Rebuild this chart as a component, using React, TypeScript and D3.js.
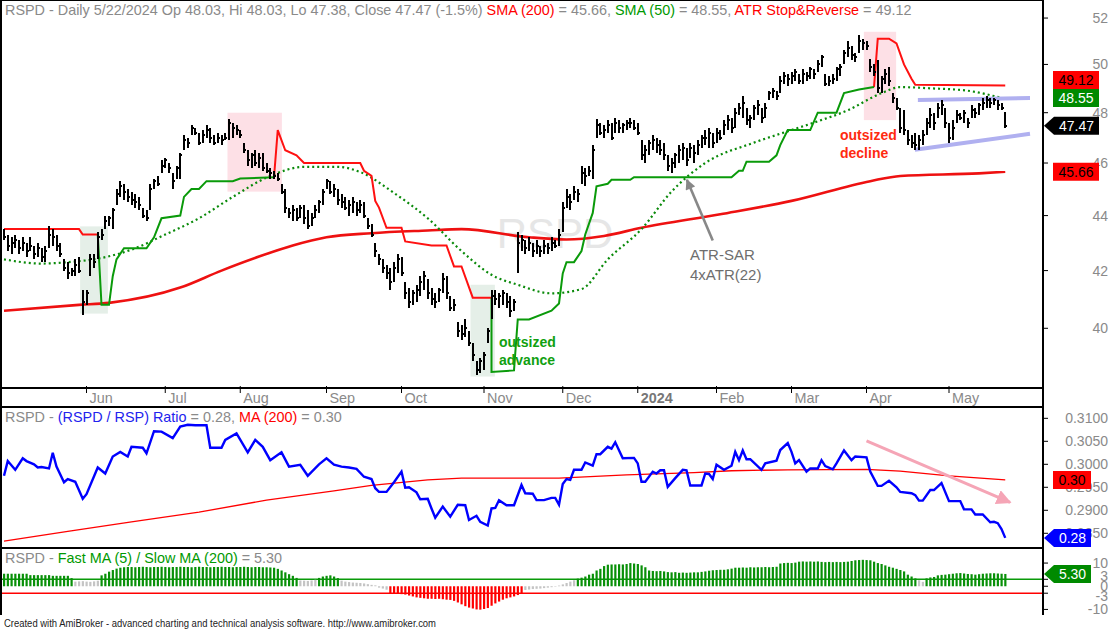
import React from 'react';
import * as d3 from 'd3';

const W = 1112;
const H = 629;
const FONT = '"Liberation Sans", Arial, Helvetica, sans-serif';
const TITLE_SIZE = 14.4;

// daily bars, 5/1/2023 .. 5/22/2024 (one value per trading day)
const high = [
  43.5, 43.3, 43.2, 43.3, 43.1, 43.2, 43.0, 43.2, 42.9, 43.0, 42.8, 42.9, 43.6, 43.5, 43.3, 43.0, 42.4, 42.3, 42.1, 42.4, 42.5, 41.3,
  41.3, 42.6, 42.6, 43.4, 43.5, 44.0, 44.0, 44.3, 45.0, 45.3, 45.2, 45.0, 44.9, 44.8, 44.7, 44.3, 44.2, 45.2, 45.4, 45.5, 46.1,
  46.2, 46.0, 45.6, 45.9, 46.4, 47.1, 47.0, 47.5, 47.4, 47.2, 47.3, 47.5, 47.4, 47.1, 47.2, 47.1, 47.2, 47.75, 47.6, 47.5,
  47.3, 46.8, 46.5, 46.4, 46.5, 46.4, 46.4, 46.0, 45.8, 45.7, 45.6, 45.2, 45.0, 44.3, 44.4, 44.3, 44.4, 44.4, 44.2, 44.1, 44.4, 44.6, 45.0,
  45.4, 45.3, 45.2, 45.0, 44.8, 44.7, 44.6, 44.7, 44.5, 44.6, 44.5, 43.9, 43.7, 43.0, 42.6, 42.4, 42.2, 42.1, 42.3, 42.6,
  42.5, 41.6, 41.4, 41.3, 41.5, 41.8, 42.0, 41.7, 41.4, 41.2, 41.4, 41.9, 41.8, 41.1, 41.0, 40.2, 40.1, 40.3, 39.9, 39.5, 38.9, 39.0,
  39.2, 40.0, 41.3, 41.3, 41.2, 41.3, 41.2, 41.1, 41.0, 43.4, 43.3, 43.1, 43.2, 43.0, 43.1, 42.9, 43.1, 43.0, 43.2, 43.1, 43.5,
  44.5, 45.0, 44.8, 45.1, 45.0, 45.9, 45.8, 45.9, 46.7, 47.75, 47.6, 47.5, 47.7, 47.6, 47.8, 47.7, 47.6, 47.7, 47.8, 47.7,
  47.6, 46.9, 46.7, 46.9, 47.1, 47.0, 46.9, 46.8, 46.3, 46.2, 46.4, 46.7, 46.8, 46.6, 46.8, 46.7, 46.9, 47.1, 47.3, 47.4, 47.2,
  47.4, 47.3, 47.7, 47.9, 47.8, 48.2, 48.4, 48.7, 48.2, 47.9, 48.3, 48.5, 48.2, 48.4, 48.9, 49.0, 48.9, 49.5, 49.7, 49.6,
  49.7, 49.8, 49.6, 49.8, 49.7, 49.9, 49.8, 50.2, 50.4, 49.6, 49.5, 49.6, 49.9, 50.0, 50.6, 51.0, 50.8, 50.5, 51.25, 51.1,
  51.0, 50.25, 50.0, 50.2, 49.5, 49.8, 49.9, 48.8, 48.6, 48.2, 48.1, 47.3, 47.1, 47.2, 47.1, 47.3, 47.8, 48.2, 48.0, 48.4, 48.5, 48.2,
  47.6, 47.7, 48.1, 48.0, 48.1, 47.8, 48.3, 48.2, 48.4, 48.6, 48.7, 48.6, 48.6, 48.5, 48.4, 48.03,
];
const low = [
  43.1, 42.7, 42.6, 42.8, 42.6, 42.7, 42.5, 42.7, 42.4, 42.5, 42.3, 42.3, 42.8, 42.9, 42.7, 42.5, 42.0, 41.7, 41.8, 41.8, 41.9, 40.45,
  40.8, 41.8, 42.1, 42.4, 43.1, 43.5, 43.6, 43.5, 44.4, 44.7, 44.6, 44.5, 44.4, 44.3, 44.2, 43.9, 43.8, 44.2, 45.0, 45.1, 45.6,
  45.8, 45.6, 45.0, 45.4, 45.4, 46.5, 46.6, 47.1, 47.1, 46.7, 46.8, 47.0, 46.8, 46.7, 46.8, 46.7, 46.9, 46.9, 47.0, 47.1,
  47.0, 46.4, 45.9, 45.8, 45.9, 45.8, 45.7, 45.6, 45.4, 45.4, 45.3, 44.8, 44.1, 43.9, 43.8, 43.8, 43.9, 43.7, 43.5, 43.6, 43.9, 44.1, 44.4,
  45.0, 44.8, 44.7, 44.4, 44.3, 44.2, 44.0, 44.1, 44.0, 44.1, 43.9, 43.5, 43.2, 42.5, 42.2, 41.9, 41.7, 41.3, 41.6, 41.9,
  41.8, 41.0, 40.7, 40.8, 40.9, 41.1, 41.3, 41.0, 40.8, 40.7, 40.9, 41.2, 41.0, 40.6, 40.6, 39.7, 39.6, 39.7, 39.4, 38.9, 38.45, 38.5,
  38.6, 39.5, 40.3, 40.8, 40.7, 40.8, 40.7, 40.4, 40.6, 41.9, 42.7, 42.6, 42.7, 42.5, 42.6, 42.5, 42.6, 42.6, 42.7, 42.8, 42.9,
  43.4, 44.3, 44.2, 44.6, 44.5, 45.2, 45.1, 45.5, 45.4, 47.0, 47.1, 47.0, 47.2, 46.9, 47.2, 47.2, 47.2, 47.3, 47.4, 47.3,
  47.1, 46.1, 46.0, 46.3, 46.5, 46.4, 46.3, 46.1, 45.7, 45.6, 45.8, 46.0, 46.1, 45.9, 46.2, 46.0, 46.3, 46.6, 46.7, 46.6, 46.6,
  46.8, 46.9, 47.1, 47.3, 47.2, 47.4, 47.9, 47.8, 47.5, 47.4, 47.7, 47.9, 47.6, 47.8, 48.5, 48.6, 48.5, 48.8, 49.2, 49.1,
  49.2, 49.3, 49.2, 49.2, 49.3, 49.4, 49.4, 49.7, 49.9, 49.1, 49.1, 49.2, 49.3, 49.5, 50.0, 50.3, 50.2, 50.1, 50.5, 50.6,
  50.6, 49.7, 49.5, 48.8, 48.8, 49.2, 49.1, 48.4, 48.1, 47.2, 47.1, 46.7, 46.6, 46.5, 46.5, 46.7, 47.1, 47.4, 47.3, 47.8, 47.9, 47.4,
  46.8, 46.9, 47.6, 47.7, 47.6, 47.4, 47.8, 47.8, 47.9, 48.1, 48.2, 48.2, 48.3, 48.1, 48.1, 47.38,
];
const close = [
  43.2, 42.9, 43.0, 43.1, 42.8, 43.0, 42.7, 42.9, 42.6, 42.8, 42.5, 42.7, 43.3, 43.2, 42.9, 42.6, 42.1, 41.9, 42.0, 42.2, 42.0, 40.9,
  41.2, 42.4, 42.3, 43.2, 43.3, 43.8, 43.9, 44.2, 44.8, 45.1, 44.9, 44.7, 44.6, 44.5, 44.4, 44.0, 43.9, 45.0, 45.3, 45.2, 45.9,
  46.1, 45.8, 45.3, 45.8, 46.3, 46.9, 46.8, 47.4, 47.2, 46.8, 47.1, 47.3, 47.0, 46.8, 47.0, 46.9, 47.0, 47.6, 47.4, 47.3,
  47.1, 46.5, 46.1, 46.3, 46.0, 46.2, 45.8, 45.7, 45.6, 45.5, 45.4, 44.9, 44.3, 44.1, 44.2, 43.9, 44.3, 43.9, 43.6, 43.9, 44.2, 44.5, 44.9,
  45.3, 44.9, 45.0, 44.6, 44.5, 44.3, 44.4, 44.5, 44.2, 44.4, 44.0, 43.6, 43.3, 42.7, 42.4, 42.1, 41.9, 41.6, 42.1, 42.4,
  41.9, 41.2, 40.9, 41.2, 41.3, 41.6, 41.8, 41.2, 41.0, 40.9, 41.3, 41.7, 41.2, 40.7, 40.8, 39.9, 39.8, 40.0, 39.5, 39.1, 38.6, 38.9,
  39.1, 39.9, 41.1, 41.0, 41.1, 41.2, 40.9, 40.6, 40.9, 43.0, 43.1, 42.8, 43.0, 42.7, 42.9, 42.7, 42.9, 42.8, 43.0, 42.9, 43.3,
  44.3, 44.7, 44.5, 44.9, 44.8, 45.6, 45.5, 45.7, 46.5, 47.5, 47.2, 47.3, 47.5, 47.0, 47.6, 47.4, 47.5, 47.6, 47.6, 47.4,
  47.2, 46.3, 46.5, 46.8, 46.9, 46.7, 46.5, 46.3, 45.9, 46.0, 46.3, 46.5, 46.6, 46.1, 46.6, 46.4, 46.7, 47.0, 47.0, 47.2, 46.8,
  47.2, 47.0, 47.5, 47.7, 47.4, 48.0, 48.2, 48.4, 47.7, 47.8, 48.2, 48.3, 47.8, 48.2, 48.8, 48.9, 48.7, 49.3, 49.5, 49.4,
  49.5, 49.7, 49.3, 49.6, 49.5, 49.8, 49.6, 50.0, 50.3, 49.2, 49.3, 49.4, 49.8, 49.9, 50.5, 50.7, 50.4, 50.3, 51.0, 50.9,
  50.8, 49.9, 49.7, 49.0, 49.4, 49.6, 49.3, 48.6, 48.2, 47.4, 47.3, 46.9, 46.8, 46.7, 46.9, 47.1, 47.6, 47.9, 47.6, 48.2, 48.3, 47.6,
  47.0, 47.4, 47.9, 47.8, 48.0, 47.6, 48.1, 48.0, 48.3, 48.4, 48.5, 48.4, 48.5, 48.3, 48.2, 47.47,
];

// moving averages: [bar, value]
const sma200 = [
  [0, 40.6], [20, 40.8], [28, 40.87], [47, 41.4], [58, 42.0], [68, 42.5], [77, 42.9], [86, 43.2], [98, 43.35],
  [113, 43.45], [122, 43.5], [140, 43.2], [150, 43.12], [160, 43.25], [170, 43.55], [191, 44.05], [210, 44.55],
  [231, 45.3], [239, 45.5], [260, 45.6], [267, 45.66],
];
const sma50 = [
  [0, 42.4], [10, 42.25], [17, 42.3], [26, 42.45], [34, 42.75], [43, 43.3], [52, 43.9], [61, 44.7], [71, 45.5],
  [80, 45.85], [89, 45.85], [95, 45.65], [104, 44.85], [113, 43.9], [122, 42.7], [130, 41.85], [137, 41.5],
  [146, 41.2], [154, 41.35], [161, 42.4], [170, 43.5], [178, 44.9], [187, 46.0], [200, 46.8], [210, 47.3],
  [216, 47.6], [225, 48.1], [234, 48.8], [239, 49.05], [247, 49.0], [257, 48.9], [266, 48.6],
];

// ATR stop & reverse, 4 x ATR(22): short-side (red) and long-side (green) legs
const sarShort1 = [[0, 43.5], [20, 43.5], [21, 43.3], [25, 43.3]];
const sarLong1 = [
  [25, 43.3], [26, 40.8], [28, 40.8], [29, 41.8], [30, 42.4], [32, 42.8], [38, 42.8], [40, 43.2], [42, 43.9],
  [47, 44.0], [48, 44.7], [50, 45.0], [52, 45.0], [54, 45.3], [61, 45.3], [63, 45.4], [72, 45.45],
];
const sarShort2 = [
  [72, 45.45], [73, 47.3], [75, 46.5], [78, 46.3], [80, 46.0], [95, 46.0], [96, 45.7], [98, 45.5], [99, 44.55],
  [100, 44.3], [102, 43.55], [106, 43.55], [107, 43.05], [114, 42.9], [118, 42.9], [120, 42.15], [122, 42.15],
  [125, 41.05], [130, 41.05],
];
const sarLong2 = [
  [130, 41.05], [130, 38.55], [136, 38.6], [137, 40.3], [140, 40.3], [146, 40.6], [148, 40.85], [149, 41.9],
  [150, 42.3], [152, 42.3], [154, 42.7], [155, 43.3], [157, 44.1], [158, 45.1], [161, 45.2], [162, 45.35],
  [167, 45.35], [168, 45.45], [194, 45.45], [196, 45.7], [197, 45.7], [198, 46.05], [204, 46.05], [206, 46.3],
  [207, 46.7], [209, 47.3], [215, 47.3], [217, 48.0], [222, 48.0], [224, 48.8], [228, 48.95], [232, 49.05],
];
const sarShort3 = [[232, 49.05], [233, 51.1], [236, 51.1], [238, 50.9], [240, 50.0], [242, 49.4], [243, 49.15], [267, 49.12]];

// RSPD / RSP ratio and its 200-day MA
const ratio = [
  [0, 0.2975], [1, 0.3007], [3, 0.2988], [5, 0.3013], [6, 0.3007], [8, 0.3], [9, 0.2993], [10, 0.2994], [12, 0.2991],
  [13, 0.3025], [14, 0.2995], [16, 0.2961], [17, 0.2968], [19, 0.2962], [21, 0.2925], [22, 0.2935], [25, 0.2993],
  [27, 0.298], [29, 0.3017], [31, 0.3027], [33, 0.3017], [34, 0.3038], [37, 0.3036], [38, 0.3024], [40, 0.3072],
  [42, 0.3071], [45, 0.3057], [47, 0.3082], [49, 0.3086], [51, 0.3085], [54, 0.3085], [55, 0.3036], [58, 0.3036],
  [59, 0.3053], [62, 0.3067], [65, 0.3026], [67, 0.3053], [69, 0.3038], [71, 0.3009], [74, 0.3026], [76, 0.2995],
  [79, 0.2999], [81, 0.2975], [84, 0.3], [86, 0.3013], [88, 0.2999], [90, 0.2995], [92, 0.2993], [94, 0.299],
  [96, 0.2973], [98, 0.2968], [99, 0.2948], [100, 0.294], [102, 0.294], [104, 0.2961], [106, 0.2984], [107, 0.2949],
  [108, 0.295], [110, 0.2939], [111, 0.2924], [113, 0.2925], [114, 0.2904], [115, 0.2884], [117, 0.2908], [119, 0.2886],
  [121, 0.2912], [123, 0.2911], [124, 0.2879], [126, 0.2888], [127, 0.2875], [129, 0.2867], [130, 0.2904], [131, 0.2905],
  [132, 0.2922], [134, 0.2911], [136, 0.2911], [138, 0.2955], [139, 0.2937], [141, 0.2936], [142, 0.2922], [144, 0.2922],
  [146, 0.2927], [147, 0.2927], [148, 0.2912], [149, 0.2957], [150, 0.2968], [151, 0.2966], [152, 0.2988], [154, 0.2988],
  [155, 0.3004], [157, 0.2997], [158, 0.3022], [159, 0.3022], [161, 0.3038], [162, 0.3034], [163, 0.3048], [165, 0.3013],
  [168, 0.3014], [169, 0.3002], [170, 0.2962], [171, 0.2962], [173, 0.2984], [174, 0.298], [175, 0.2987], [176, 0.2987],
  [177, 0.2951], [179, 0.297], [181, 0.2988], [182, 0.2987], [183, 0.2954], [186, 0.2954], [187, 0.298], [188, 0.2979],
  [189, 0.2968], [190, 0.2999], [192, 0.2988], [194, 0.2997], [195, 0.3027], [196, 0.3009], [197, 0.303], [198, 0.3011],
  [199, 0.3011], [202, 0.2988], [203, 0.3002], [206, 0.3008], [207, 0.3031], [209, 0.3046], [210, 0.3027], [211, 0.3002],
  [212, 0.3009], [214, 0.2984], [215, 0.2991], [217, 0.2991], [218, 0.3009], [219, 0.2996], [221, 0.2989], [222, 0.3002],
  [224, 0.303], [226, 0.3009], [227, 0.3017], [230, 0.3015], [231, 0.2984], [233, 0.2953], [234, 0.2953], [236, 0.2964],
  [238, 0.295], [239, 0.294], [242, 0.2937], [243, 0.2933], [244, 0.2921], [245, 0.2921], [247, 0.2944], [248, 0.2944],
  [250, 0.2959], [252, 0.292], [255, 0.292], [256, 0.2902], [258, 0.2902], [259, 0.2891], [261, 0.2891], [263, 0.2874],
  [264, 0.2875], [265, 0.2872], [266, 0.2859], [267, 0.284],
];
const ratioMa = [
  [0, 0.2833], [17, 0.2854], [34, 0.2875], [52, 0.2896], [70, 0.2922], [88, 0.2942], [98, 0.2954], [113, 0.2966],
  [122, 0.297], [148, 0.297], [166, 0.2977], [184, 0.2982], [194, 0.2986], [209, 0.2988], [230, 0.2989], [239, 0.2985],
  [252, 0.2975], [267, 0.2966],
];

// Fast MA(5) / Slow MA(200) oscillator, one value per bar
const osc = [
  5.4, 5.4, 5.4, 5.4, 5.4, 5.4, 5.4, 4.8, 4.8, 4.8, 4.8, 4.8, 4.8, 4.5, 4.5, 4.5, 4.5, 4.5, 3.5,
  2.0, 2.1, 2.2, 2.0, 1.9, 2.1, 2.4, 4.7, 5.4, 6.3, 7.0, 7.6, 8.0,
  8.2, 8.3, 8.3, 8.2, 8.3, 8.4, 8.3, 8.2, 8.3, 8.3, 8.4, 8.3, 8.2, 8.3, 8.3, 8.4, 8.3, 8.3, 8.2, 8.3,
  8.4, 8.3, 8.3, 8.2, 8.3, 8.3, 8.4, 8.3, 8.3, 8.2, 8.3, 8.3, 8.4, 8.3, 8.2, 8.3, 8.3, 8.2, 8.2, 8.1, 8.0,
  7.5, 6.8, 6.0, 5.2, 4.5, 3.6, 2.5, 2.4, 2.3, 2.5, 2.8, 3.6, 4.2, 4.5, 4.7, 4.2, 3.5,
  2.4, 2.0, 1.8, 1.6, 1.5, 1.4, 1.2, 0.9, 0.6, 0.4, -0.6, -1.0, -1.5,
  -3.1, -3.2, -3.3, -3.4, -3.6, -4.0, -4.4, -4.8, -5.0, -5.2, -5.4, -5.4, -5.5, -5.4, -5.6, -5.8, -5.9,
  -6.3, -7.0, -7.8, -8.6, -9.2, -9.6, -10.0, -10.1, -9.8, -9.4, -8.4, -7.4, -6.6, -5.8, -5.2, -4.8, -4.4, -3.8, -3.2,
  -1.6, -1.4, -1.2, -1.1, -1.0, -0.8, -0.6, -0.4, -0.2, 0.3, 0.8, 1.4, 2.0, 2.6,
  3.3, 3.7, 4.2, 5.0, 5.4, 6.8, 7.5, 8.7, 9.3, 9.4, 9.4, 9.5, 9.4, 9.6, 10.0, 9.8, 9.6, 9.0, 8.2,
  6.8, 6.6, 6.5, 6.6, 6.4, 6.1, 6.0, 6.1, 5.8, 5.9, 5.8, 5.9, 6.0, 6.0, 6.2, 6.4,
  6.7, 6.9, 7.0, 7.1, 7.1, 7.3, 7.6, 8.0, 8.0, 8.1, 8.0, 8.2, 8.1, 8.2, 8.2, 8.3, 8.2, 8.3, 8.4,
  9.8, 10.0, 10.1, 10.0, 10.2, 10.6, 10.7, 10.6, 10.7, 10.6, 10.7, 10.5, 10.4, 10.5, 10.4, 10.5,
  10.4, 10.5, 10.6, 10.9, 11.2, 11.3, 11.4, 11.3, 11.2, 10.6, 10.0, 9.6, 9.0, 8.4, 8.0, 7.5,
  7.0, 6.4, 5.0, 4.2, 3.4, 2.6, 1.9, 3.4, 3.8, 4.0,
  4.7, 4.9, 5.0, 5.2, 5.4, 5.6, 5.7, 5.5, 5.3, 5.2, 5.0, 5.2, 5.4, 5.5, 5.6, 5.6, 5.5, 5.4, 5.3,
];

// month ticks (bar index of first trading day)
const monthBars = [22, 43, 63, 86, 106, 128, 149, 169, 190, 210, 230, 252];
const monthNames = ['Jun', 'Jul', 'Aug', 'Sep', 'Oct', 'Nov', 'Dec', '2024', 'Feb', 'Mar', 'Apr', 'May'];

const priceTicks = [40, 42, 44, 46, 48, 50, 52];
const ratioTicks = [0.285, 0.29, 0.295, 0.3, 0.305, 0.31];
const oscTicks = [-10, -3, 0, 3, 10];
const oscLabelNudge = [0, 3, 0, -3, 0];

// highlighted zones: bar range and price range
const zoneFrom = [20.3, 59.6, 124.4, 229.3];
const zoneTo = [27.7, 74.1, 130.9, 237.9];
const zoneTop = [43.6, 48.0, 41.5, 51.4];
const zoneBottom = [40.5, 44.9, 38.4, 47.7];
const zoneFill = ['#e5efe8', '#fde0e6', '#e5efe8', '#fde0e6'];

// hand-drawn triangle on the right
const channelUpper = [[243.7, 48.52], [273.6, 48.6]];
const channelLower = [[242.9, 46.52], [273.6, 47.15]];
const sarArrow = [[189, 43.08], [182.1, 45.35]];
const ratioArrow = [[230, 0.3051], [268.3, 0.2917]];

const PLOT_R = 1043;
const TOP_B = 388;
const MID_T = 407;
const MID_B = 548;
const LOW_B = 615;

const x = d3.scaleLinear().domain([0, 267]).range([4, 1005.25]);
const yP = d3.scaleLog().domain([38.03, 52.8]).range([TOP_B, 0]);
const yR = d3.scaleLinear().domain([0.2818, 0.31246]).range([MID_B, MID_T]);
const yO = d3.scaleLinear().domain([-12.4, 16.5]).range([LOW_B, MID_B]);

const priceLine = d3.line<number[]>().x((d) => x(d[0])).y((d) => yP(d[1]));
const smoothPrice = d3.line<number[]>().x((d) => x(d[0])).y((d) => yP(d[1])).curve(d3.curveMonotoneX);
const ratioLine = d3.line<number[]>().x((d) => x(d[0])).y((d) => yR(d[1]));

const GRAY = '#8a8a8a';

function ValueTag({ y, text, bg, fg, arrow, right = 1099 }: any) {
  const d = arrow
    ? `M1044,${y} L1054,${y - 9} H${right} V${y + 9} H1054 Z`
    : `M1053,${y - 9} H${right} V${y + 9} H1053 Z`;
  const cx = arrow ? (1054 + right) / 2 : (1053 + right) / 2;
  return (
    <g>
      <path d={d} fill={bg} />
      <text x={cx} y={y + 5} textAnchor="middle" fontSize={14} fill={fg}>
        {text}
      </text>
    </g>
  );
}

export default function App() {
  const n = Math.min(high.length, low.length, close.length);
  const bars = d3.range(n);
  const last = n - 1;

  const yStopRaw = yP(sarShort3[sarShort3.length - 1][1]);
  const ySma50 = yP(sma50[sma50.length - 1][1]);
  const yStop = Math.min(yStopRaw, ySma50 - 18);

  return (
    <svg
      width={W}
      height={H}
      style={{ position: 'absolute', left: 0, top: 0, background: '#fff' }}
      fontFamily={FONT}
    >
      <defs>
        <clipPath id="cTop">
          <rect x={0} y={0} width={PLOT_R} height={TOP_B} />
        </clipPath>
        <clipPath id="cMid">
          <rect x={0} y={MID_T} width={PLOT_R} height={MID_B - MID_T} />
        </clipPath>
        <clipPath id="cLow">
          <rect x={0} y={MID_B} width={PLOT_R} height={LOW_B - MID_B} />
        </clipPath>
        <marker id="headGray" viewBox="0 0 10 10" refX="9" refY="5" markerWidth="4.5" markerHeight="4" orient="auto">
          <path d="M0,0 L10,5 L0,10 z" fill="#888" />
        </marker>
        <marker id="headPink" viewBox="0 0 10 10" refX="9" refY="5" markerWidth="5" markerHeight="5" orient="auto">
          <path d="M0,0 L10,5 L0,10 z" fill="#f5a5b6" />
        </marker>
      </defs>

      <rect x={0} y={0} width={W} height={H} fill="#fff" />

      {/* price panel */}
      <g clipPath="url(#cTop)">
        <text x={555} y={248} textAnchor="middle" fontSize={42} fill="#e6e6e6">
          RSPD
        </text>
        {zoneFrom.map((f, i) => (
          <rect
            key={i}
            x={x(f)}
            y={yP(zoneTop[i])}
            width={x(zoneTo[i]) - x(f)}
            height={yP(zoneBottom[i]) - yP(zoneTop[i])}
            fill={zoneFill[i]}
          />
        ))}
        <path d={smoothPrice(sma200) || ''} fill="none" stroke="#ee1111" strokeWidth={2.6} />
        <path d={smoothPrice(sma50) || ''} fill="none" stroke="#0a8a0a" strokeWidth={2.2} strokeDasharray="2,3" />
        {[sarShort1, sarShort2, sarShort3].map((s, i) => (
          <path key={'s' + i} d={priceLine(s) || ''} fill="none" stroke="#ff1111" strokeWidth={2} />
        ))}
        {[sarLong1, sarLong2].map((s, i) => (
          <path key={'l' + i} d={priceLine(s) || ''} fill="none" stroke="#0a9a0a" strokeWidth={2} />
        ))}
        <path d={priceLine(channelUpper) || ''} stroke="#b0b0f0" strokeWidth={4} fill="none" />
        <path d={priceLine(channelLower) || ''} stroke="#b0b0f0" strokeWidth={4} fill="none" />
        <g stroke="#000" strokeWidth={2} shapeRendering="crispEdges">
          {bars.map((i) => (
            <g key={i}>
              <line x1={x(i)} x2={x(i)} y1={yP(high[i])} y2={yP(low[i])} />
              <line x1={x(i)} x2={x(i) + 2} y1={yP(close[i])} y2={yP(close[i])} />
            </g>
          ))}
        </g>
        <path
          d={priceLine(sarArrow) || ''}
          stroke="#888"
          strokeWidth={2.6}
          fill="none"
          markerEnd="url(#headGray)"
        />
        <text x={690} y={260} fontSize={15} fill="#6e6e6e">
          ATR-SAR
        </text>
        <text x={690} y={280} fontSize={15} fill="#6e6e6e">
          4xATR(22)
        </text>
        <text x={499} y={347} fontSize={14} fontWeight="bold" fill="#10a010">
          outsized
        </text>
        <text x={499} y={365} fontSize={14} fontWeight="bold" fill="#10a010">
          advance
        </text>
        <text x={840} y={140} fontSize={14} fontWeight="bold" fill="#ff2a10">
          outsized
        </text>
        <text x={840} y={158} fontSize={14} fontWeight="bold" fill="#ff2a10">
          decline
        </text>
      </g>

      <text x={5} y={15} fontSize={TITLE_SIZE} fill={GRAY}>
        <tspan>{`RSPD - Daily 5/22/2024 Op 48.03, Hi ${high[last].toFixed(2)}, Lo ${low[last].toFixed(2)}, Close ${close[last].toFixed(2)} (-1.5%) `}</tspan>
        <tspan fill="#ff0000">SMA (200)</tspan>
        <tspan>{` = ${sma200[sma200.length - 1][1].toFixed(2)}, `}</tspan>
        <tspan fill="#009900">SMA (50)</tspan>
        <tspan>{` = 48.55, `}</tspan>
        <tspan fill="#ff0000">ATR Stop&amp;Reverse</tspan>
        <tspan>{` = ${sarShort3[sarShort3.length - 1][1].toFixed(2)}`}</tspan>
      </text>

      {/* ratio panel */}
      <g clipPath="url(#cMid)">
        <path d={ratioLine(ratioMa) || ''} fill="none" stroke="#ff0000" strokeWidth={1.3} />
        <path d={ratioLine(ratio) || ''} fill="none" stroke="#0000ff" strokeWidth={2.4} />
        <path
          d={ratioLine(ratioArrow) || ''}
          stroke="#f5a5b6"
          strokeWidth={3}
          fill="none"
          markerEnd="url(#headPink)"
        />
      </g>
      <text x={5} y={422} fontSize={TITLE_SIZE} fill={GRAY}>
        <tspan>RSPD - </tspan>
        <tspan fill="#2222ee">(RSPD / RSP) Ratio</tspan>
        <tspan>{` = ${ratio[ratio.length - 1][1].toFixed(2)}, `}</tspan>
        <tspan fill="#ff0000">MA (200)</tspan>
        <tspan>{` = ${ratioMa[ratioMa.length - 1][1].toFixed(2)}`}</tspan>
      </text>

      {/* oscillator panel */}
      <g clipPath="url(#cLow)">
        <line x1={0} x2={PLOT_R} y1={yO(3)} y2={yO(3)} stroke="#0a9a0a" strokeWidth={1.5} />
        <line x1={0} x2={PLOT_R} y1={yO(-3)} y2={yO(-3)} stroke="#ff0000" strokeWidth={1.5} />
        {osc.map((v, i) => (
          <rect
            key={i}
            x={x(i) - 1}
            width={2.2}
            y={Math.min(yO(0), yO(v))}
            height={Math.abs(yO(v) - yO(0))}
            fill={v > 3 ? '#089008' : v < -3 ? '#ff0000' : '#c4c4c4'}
          />
        ))}
      </g>
      <text x={5} y={563} fontSize={TITLE_SIZE} fill={GRAY}>
        <tspan>RSPD - </tspan>
        <tspan fill="#009900">Fast MA (5) / Slow MA (200)</tspan>
        <tspan>{` = ${osc[osc.length - 1].toFixed(2)}`}</tspan>
      </text>

      {/* frames */}
      <g stroke="#000" strokeWidth={1.5} shapeRendering="crispEdges" fill="none">
        <line x1={0} x2={PLOT_R} y1={0.5} y2={0.5} />
        <line x1={0.75} x2={0.75} y1={0} y2={LOW_B} />
        <line x1={PLOT_R} x2={PLOT_R} y1={0} y2={LOW_B} />
        <line x1={0} x2={PLOT_R} y1={TOP_B} y2={TOP_B} />
        <line x1={0} x2={PLOT_R} y1={MID_T} y2={MID_T} />
        <line x1={0} x2={PLOT_R} y1={MID_B} y2={MID_B} />
      </g>

      {/* date axis */}
      {monthBars.map((b, i) => (
        <g key={b}>
          <line x1={x(b)} x2={x(b)} y1={TOP_B - 2} y2={TOP_B + 5} stroke="#000" strokeWidth={1} />
          <text
            x={x(b) + 3}
            y={403}
            fontSize={TITLE_SIZE}
            fill={monthNames[i] === '2024' ? '#777' : GRAY}
            fontWeight={monthNames[i] === '2024' ? 'bold' : 'normal'}
          >
            {monthNames[i]}
          </text>
        </g>
      ))}

      {/* right axes */}
      {priceTicks.map((t) => (
        <g key={t}>
          <line x1={PLOT_R} x2={PLOT_R + 5} y1={yP(t)} y2={yP(t)} stroke="#000" />
          <text x={1108} y={yP(t) + 5} textAnchor="end" fontSize={14} fill={GRAY}>
            {t}
          </text>
        </g>
      ))}
      {ratioTicks.map((t) => (
        <g key={t}>
          <line x1={PLOT_R} x2={PLOT_R + 5} y1={yR(t)} y2={yR(t)} stroke="#000" />
          <text x={1108} y={yR(t) + 5} textAnchor="end" fontSize={14} fill={GRAY}>
            {t.toFixed(4)}
          </text>
        </g>
      ))}
      {oscTicks.map((t, i) => (
        <g key={t}>
          <line x1={PLOT_R} x2={PLOT_R + 5} y1={yO(t)} y2={yO(t)} stroke="#000" />
          <text x={1108} y={yO(t) + 5 + oscLabelNudge[i]} textAnchor="end" fontSize={14} fill={GRAY}>
            {t}
          </text>
        </g>
      ))}

      <ValueTag y={yStop} text="49.12" bg="#ff0000" fg="#000" />
      <ValueTag y={ySma50} text="48.55" bg="#008a00" fg="#fff" />
      <ValueTag y={yP(close[last])} text={close[last].toFixed(2)} bg="#000" fg="#fff" arrow />
      <ValueTag y={yP(sma200[sma200.length - 1][1])} text="45.66" bg="#ff0000" fg="#000" />
      <ValueTag y={yR(ratioMa[ratioMa.length - 1][1])} text="0.30" bg="#ff0000" fg="#000" right={1091} />
      <ValueTag y={yR(ratio[ratio.length - 1][1])} text="0.28" bg="#0000ff" fg="#fff" arrow right={1091} />
      <ValueTag y={yO(osc[osc.length - 1])} text={osc[osc.length - 1].toFixed(2)} bg="#008a00" fg="#fff" arrow right={1091} />

      <text x={4} y={627} fontSize={10} fill="#222" textLength={432} lengthAdjust="spacingAndGlyphs">
        Created with AmiBroker - advanced charting and technical analysis software. http://www.amibroker.com
      </text>
    </svg>
  );
}
